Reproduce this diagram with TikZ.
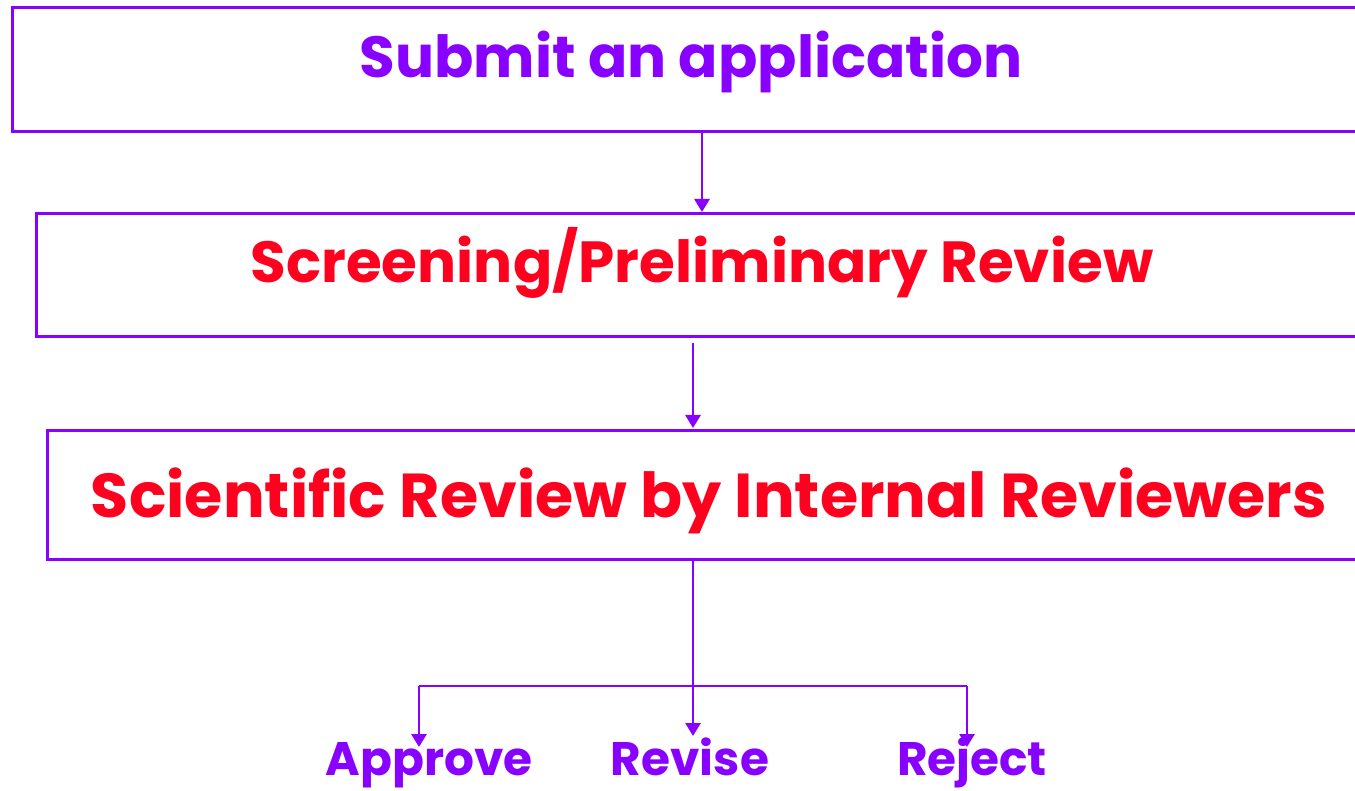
\documentclass[tikz,border=0pt]{standalone}
\usepackage{fontspec}
\setmainfont{Poppins}[BoldFont=* Bold]
\usetikzlibrary{arrows.meta}
\definecolor{violetline}{RGB}{136,0,255}
\definecolor{stepred}{RGB}{255,0,30}
\tikzset{
  frame/.style={draw=violetline, line width=3pt, inner sep=0pt, anchor=north west},
  link/.style={draw=violetline, line width=2.8pt, -{Triangle[width=15pt,length=13pt]}},
  plain/.style={draw=violetline, line width=2.8pt},
  title/.style={font=\bfseries\fontsize{58}{64}\selectfont, inner sep=0pt, anchor=base},
  bigtitle/.style={title, font=\bfseries\fontsize{62}{68}\selectfont},
  choice/.style={font=\bfseries\fontsize{47}{52}\selectfont, text=violetline, inner sep=0pt, anchor=base}
}
\begin{document}
\begin{tikzpicture}[x=1pt,y=-1pt]
\useasboundingbox (0,0) rectangle (1355,791);
\clip (0,0) rectangle (1355,791);
\fill[white] (0,0) rectangle (1355,791);
% stage frames (open to the right)
\node[frame, minimum width=1360pt, minimum height=124pt] (submit) at (11,6) {};
\node[frame, minimum width=1340pt, minimum height=123pt] (screen) at (35,212) {};
\node[frame, minimum width=1330pt, minimum height=129pt] (sci) at (46,429) {};
% stage titles
\node[title, text=violetline] (tsubmit) at (691,78) {Submit an application};
\node[title, text=stepred] (tscreen) at (702,283) {Screening/Preliminary Review};
\node[bigtitle, text=stepred] (tsci) at (709,517) {Scientific Review by Internal Reviewers};
% outcomes
\node[choice] (approve) at (429,775) {Approve};
\node[choice] (revise) at (690,775) {Revise};
\node[choice] (reject) at (972,775) {Reject};
% connectors
\coordinate (a1) at (702,130);
\coordinate (a2) at (702,212);
\coordinate (b1) at (693,343);
\coordinate (b2) at (693,428);
\coordinate (c0) at (693,558);
\coordinate (forkl) at (419,686);
\coordinate (forkr) at (967,686);
\coordinate (tipl) at (419,747);
\coordinate (tipm) at (693,736);
\coordinate (tipr) at (967,747);
\draw[link] (a1) -- (a2);
\draw[link] (b1) -- (b2);
\draw[link] (c0) -- (tipm);
\draw[plain] (forkl) -- (forkr);
\draw[link] (forkl) -- (tipl);
\draw[link] (forkr) -- (tipr);
\end{tikzpicture}
\end{document}
